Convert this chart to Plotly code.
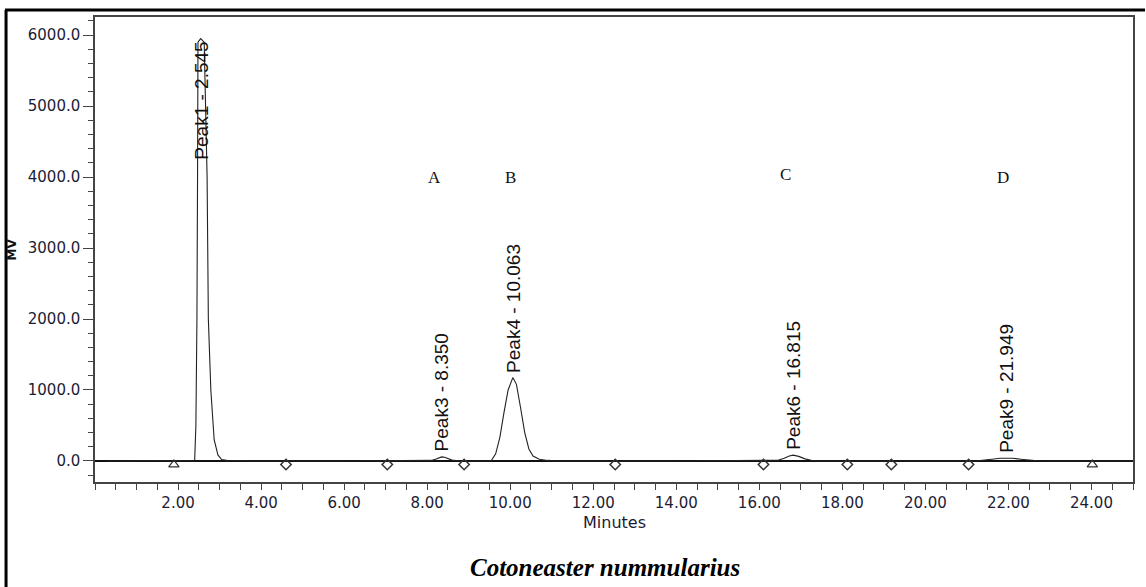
import plotly.graph_objects as go

# ---- data ----
time_min = [0.30, 1.00, 2.00, 2.30, 2.40, 2.43, 2.455, 2.47, 2.48, 2.545, 2.63, 2.70, 2.73,
            2.79, 2.87, 2.96, 3.05, 3.20, 4.00, 6.00, 7.90, 8.10, 8.20, 8.30, 8.35, 8.42,
            8.50, 8.60, 8.75, 8.90, 9.45, 9.55, 9.65, 9.75, 9.85, 9.95, 10.063, 10.15,
            10.25, 10.35, 10.45, 10.55, 10.70, 10.90, 11.10, 11.30, 14.00, 16.30, 16.45,
            16.60, 16.72, 16.815, 16.95, 17.10, 17.25, 17.40, 17.60, 19.60, 19.85, 20.10,
            21.20, 21.40, 21.60, 21.80, 21.949, 22.10, 22.30, 22.50, 22.70, 22.90, 24.00, 25.00]
signal_mv = [0, 0, 0, 0, 5, 500, 2000, 4000, 5900, 5950, 5900, 4000, 2000,
             1000, 300, 85, 20, 5, 0, 0, 0, 8, 25, 50, 58, 52,
             32, 12, 3, 0, 0, 10, 100, 330, 680, 1000, 1175, 1080,
             750, 400, 170, 70, 25, 8, 2, 0, 0, 0, 10,
             40, 70, 82, 65, 30, 10, 2, 0, 0, 4, 0,
             0, 8, 25, 38, 42, 38, 25, 12, 4, 0, 0, 0]

peak_names = ["Peak1", "Peak3", "Peak4", "Peak6", "Peak9"]
peak_rt = [2.545, 8.350, 10.063, 16.815, 21.949]
peak_height = [5930, 60, 1175, 82, 42]

compound_letters = ["A", "B", "C", "D"]
compound_x = [8.17, 10.0, 16.63, 21.87]
compound_y = [4000, 4000, 4040, 4000]

start_end_tri_x = [1.90, 24.02]
start_end_dia_x = [4.60, 7.04, 8.89, 12.53, 16.10, 18.12, 19.18, 21.04]
marker_y = -50

x_tick_vals = [2, 4, 6, 8, 10, 12, 14, 16, 18, 20, 22, 24]
y_tick_vals = [0, 1000, 2000, 3000, 4000, 5000, 6000]

# ---- figure ----
fig = go.Figure()
fig.add_trace(go.Scatter(x=time_min, y=signal_mv, mode="lines",
                         line=dict(color="#222222", width=1.1), hoverinfo="skip"))
fig.add_trace(go.Scatter(x=start_end_tri_x, y=[marker_y] * len(start_end_tri_x), mode="markers",
                         marker=dict(symbol="triangle-up-open", size=9, color="#333333",
                                     line=dict(width=1.2))))
fig.add_trace(go.Scatter(x=start_end_dia_x, y=[marker_y] * len(start_end_dia_x), mode="markers",
                         marker=dict(symbol="diamond-open", size=8, color="#333333",
                                     line=dict(width=1.5))))

label_font = dict(family="Liberation Sans, Arial", size=19, color="#111111")
for name, rt, h in zip(peak_names, peak_rt, peak_height):
    top_anchor = h > 3000
    fig.add_annotation(x=rt, y=h, xref="x", yref="y", text=f"{name} - {rt:.3f}",
                       textangle=-90, showarrow=False, font=label_font,
                       xanchor="center", yanchor="top" if top_anchor else "bottom",
                       yshift=0 if top_anchor else 3)

for letter, lx, ly in zip(compound_letters, compound_x, compound_y):
    fig.add_annotation(x=lx, y=ly, xref="x", yref="y", text=letter, showarrow=False,
                       font=dict(family="Liberation Serif, Times New Roman", size=17, color="#111111"))

tick_font = dict(family="DejaVu Sans", size=15, color="#1c1c34")

fig.update_xaxes(range=[0, 25], tickvals=x_tick_vals, ticktext=[f"{v:.2f}" for v in x_tick_vals],
                 ticks="outside", ticklen=6, tickwidth=1.2, tickcolor="#444444",
                 minor=dict(dtick=0.5, tick0=0, ticks="outside", ticklen=6, tickwidth=1.2,
                            tickcolor="#444444"),
                 showline=True, linecolor="#444444", linewidth=1.5, mirror=True,
                 showgrid=False, zeroline=False, tickfont=tick_font)
fig.update_yaxes(range=[-296, 6254], tickvals=y_tick_vals, ticktext=[f"{v:.1f}" for v in y_tick_vals],
                 ticks="outside", ticklen=10, tickwidth=1.2, tickcolor="#444444",
                 minor=dict(dtick=200, tick0=0, ticks="outside", ticklen=5, tickwidth=1.2,
                            tickcolor="#444444"),
                 showline=True, linecolor="#444444", linewidth=1.5, mirror=True,
                 showgrid=False, zeroline=True, zerolinecolor="#111111", zerolinewidth=1.5,
                 tickfont=tick_font)

# axis titles and caption
fig.add_annotation(x=0.5, y=-0.088, xref="paper", yref="paper", text="Minutes", showarrow=False,
                   font=dict(family="DejaVu Sans", size=16, color="#1c1c34"),
                   xanchor="center", yanchor="middle")
fig.add_annotation(x=-0.080, y=0.5, xref="paper", yref="paper", text="<b>MV</b>", showarrow=False,
                   textangle=-90, font=dict(family="DejaVu Sans", size=12, color="#111111"),
                   xanchor="center", yanchor="middle")
fig.add_annotation(x=0.491, y=-0.183, xref="paper", yref="paper",
                   text="<b><i>Cotoneaster nummularius</i></b>", showarrow=False,
                   font=dict(family="Liberation Serif, Times New Roman", size=25, color="#000000"),
                   xanchor="center", yanchor="middle")

# outer frame (top and left edges)
fig.add_shape(type="line", xref="paper", yref="paper", x0=-0.0867, x1=1.0116, y0=1.0150, y1=1.0150,
              line=dict(color="#000000", width=3))
fig.add_shape(type="line", xref="paper", yref="paper", x0=-0.0857, x1=-0.0857, y0=1.0150, y1=-0.24,
              line=dict(color="#000000", width=3))

fig.update_layout(width=1146, height=587, showlegend=False,
                  margin=dict(l=95, r=13, t=17, b=105),
                  paper_bgcolor="white", plot_bgcolor="white")

fig.write_html("out.html", config={"displayModeBar": False},
               post_script="document.body.style.margin='0';")
